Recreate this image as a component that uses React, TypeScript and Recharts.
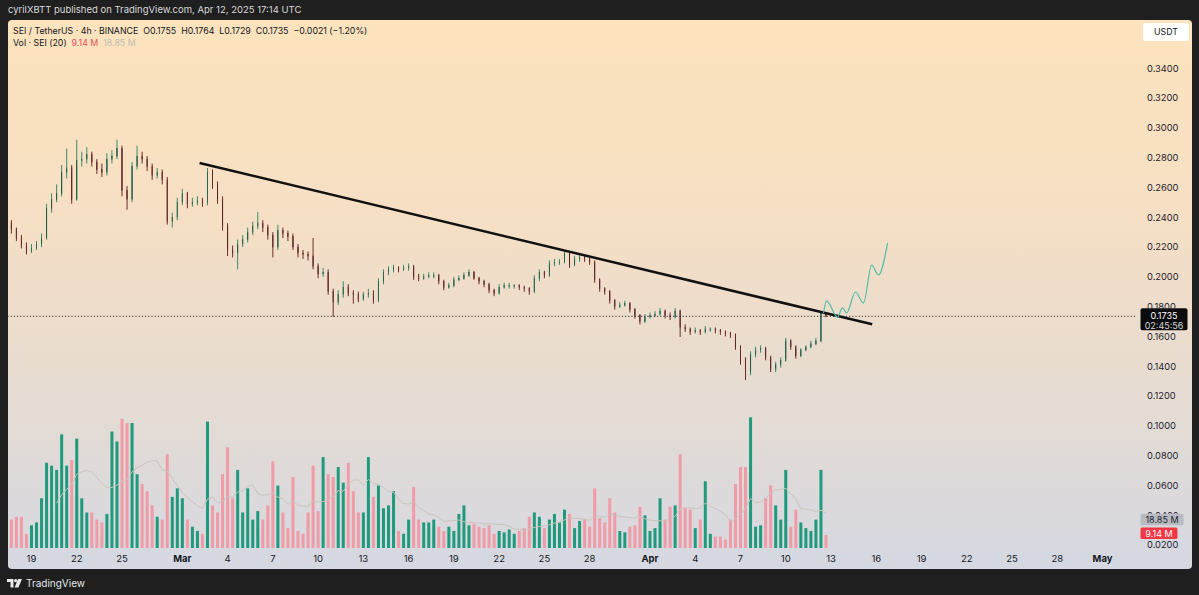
import { Bar, ComposedChart, Line, ReferenceLine, XAxis, YAxis } from 'recharts';

const FONT = 'Inter, Roboto, "Noto Sans", sans-serif';

const BAR_START = -4 / 3;
const FIRST_OPEN = 0.236;

const closes = [
  0.232, 0.226, 0.221, 0.217, 0.219, 0.222, 0.226, 0.246, 0.252, 0.256,
  0.27, 0.273, 0.252, 0.278, 0.279, 0.282, 0.277, 0.272, 0.27, 0.279,
  0.281, 0.286, 0.258, 0.252, 0.274, 0.281, 0.279, 0.274, 0.268, 0.27,
  0.265, 0.237, 0.24, 0.25, 0.256, 0.249, 0.25, 0.251, 0.25, 0.27,
  0.262, 0.252, 0.234, 0.218, 0.216, 0.222, 0.225, 0.23, 0.234, 0.236,
  0.233, 0.228, 0.22, 0.231, 0.229, 0.227, 0.22, 0.216, 0.215, 0.214,
  0.207, 0.202, 0.203, 0.19, 0.183, 0.188, 0.193, 0.189, 0.188, 0.185,
  0.188, 0.189, 0.184, 0.197, 0.203, 0.205, 0.206, 0.205, 0.206, 0.207,
  0.2, 0.199, 0.2, 0.201, 0.201, 0.197, 0.193, 0.194, 0.198, 0.199,
  0.201, 0.203, 0.199, 0.197, 0.195, 0.191, 0.189, 0.193, 0.194, 0.194,
  0.194, 0.193, 0.192, 0.19, 0.199, 0.203, 0.201, 0.209, 0.21, 0.21,
  0.216, 0.208, 0.212, 0.213, 0.212, 0.21, 0.198, 0.192, 0.19, 0.184,
  0.18, 0.181, 0.182, 0.178, 0.174, 0.17, 0.173, 0.174, 0.175, 0.177,
  0.174, 0.173, 0.177, 0.166, 0.165, 0.163, 0.164, 0.163, 0.165, 0.165,
  0.164, 0.163, 0.162, 0.161, 0.153, 0.144, 0.136, 0.148, 0.151, 0.152,
  0.146, 0.138, 0.141, 0.144, 0.157, 0.153, 0.147, 0.151, 0.153, 0.155,
  0.157, 0.1755, 0.1735,
];

const highs = [
  0.238, 0.233, 0.228, 0.223, 0.222, 0.224, 0.229, 0.249, 0.256, 0.262,
  0.275, 0.286, 0.275, 0.292, 0.284, 0.287, 0.284, 0.279, 0.276, 0.283,
  0.285, 0.292, 0.288, 0.261, 0.277, 0.288, 0.284, 0.281, 0.276, 0.273,
  0.272, 0.267, 0.243, 0.253, 0.259, 0.257, 0.253, 0.254, 0.253, 0.273,
  0.272, 0.264, 0.254, 0.236, 0.221, 0.225, 0.228, 0.233, 0.237, 0.2435,
  0.238, 0.235, 0.23, 0.235, 0.233, 0.231, 0.229, 0.222, 0.218, 0.217,
  0.226, 0.209, 0.206, 0.205, 0.192, 0.191, 0.197, 0.195, 0.191, 0.19,
  0.19, 0.192, 0.191, 0.199, 0.205, 0.207, 0.208, 0.207, 0.208, 0.209,
  0.208, 0.202, 0.202, 0.203, 0.203, 0.202, 0.198, 0.196, 0.2, 0.201,
  0.203, 0.205, 0.204, 0.2, 0.198, 0.196, 0.192, 0.195, 0.196, 0.196,
  0.195, 0.195, 0.194, 0.193, 0.201, 0.205, 0.204, 0.211, 0.212, 0.212,
  0.2175, 0.217, 0.214, 0.215, 0.214, 0.213, 0.211, 0.199, 0.193, 0.191,
  0.185, 0.183, 0.184, 0.183, 0.179, 0.175, 0.175, 0.176, 0.177, 0.179,
  0.178, 0.176, 0.179, 0.178, 0.168, 0.166, 0.166, 0.165, 0.167, 0.166,
  0.166, 0.165, 0.164, 0.163, 0.162, 0.154, 0.146, 0.15, 0.153, 0.154,
  0.153, 0.147, 0.143, 0.146, 0.159, 0.158, 0.154, 0.152, 0.154, 0.157,
  0.159, 0.177, 0.1764,
];

const lows = [
  0.229, 0.224, 0.219, 0.215, 0.216, 0.218, 0.22, 0.225, 0.243, 0.25,
  0.254, 0.266, 0.249, 0.251, 0.274, 0.276, 0.274, 0.269, 0.267, 0.268,
  0.276, 0.279, 0.254, 0.245, 0.25, 0.272, 0.276, 0.271, 0.265, 0.266,
  0.262, 0.235, 0.233, 0.238, 0.248, 0.246, 0.247, 0.248, 0.247, 0.248,
  0.259, 0.249, 0.231, 0.214, 0.213, 0.205, 0.22, 0.223, 0.228, 0.232,
  0.23, 0.225, 0.213, 0.218, 0.226, 0.224, 0.218, 0.213, 0.212, 0.211,
  0.205, 0.199, 0.2, 0.188, 0.173, 0.181, 0.186, 0.187, 0.182, 0.183,
  0.184, 0.186, 0.182, 0.183, 0.195, 0.201, 0.203, 0.203, 0.204, 0.204,
  0.198, 0.197, 0.198, 0.199, 0.199, 0.195, 0.191, 0.192, 0.193, 0.197,
  0.198, 0.2, 0.198, 0.195, 0.193, 0.189, 0.187, 0.188, 0.192, 0.192,
  0.192, 0.191, 0.19, 0.188, 0.189, 0.197, 0.199, 0.2, 0.207, 0.208,
  0.209, 0.206, 0.207, 0.21, 0.21, 0.208, 0.196, 0.19, 0.188, 0.182,
  0.178, 0.179, 0.18, 0.176, 0.172, 0.168, 0.169, 0.172, 0.173, 0.174,
  0.172, 0.171, 0.172, 0.1596, 0.163, 0.161, 0.162, 0.161, 0.162, 0.163,
  0.162, 0.161, 0.16, 0.159, 0.151, 0.141, 0.1307, 0.134, 0.146, 0.149,
  0.144, 0.136, 0.136, 0.139, 0.143, 0.151, 0.145, 0.146, 0.15, 0.152,
  0.154, 0.156, 0.1729,
];

// volume in millions SEI
const volumes = [
  20, 22, 22, 10, 16, 18, 35, 60, 58, 55,
  80, 58, 62, 77, 35, 25, 25, 20, 18, 24,
  82, 75, 91, 88, 88, 52, 45, 40, 30, 22,
  20, 66, 36, 42, 35, 20, 15, 12, 10, 89,
  30, 25, 52, 71, 35, 55, 25, 42, 20, 26,
  20, 30, 61, 44, 25, 14, 50, 12, 10, 25,
  58, 26, 64, 52, 50, 57, 46, 60, 40, 25,
  25, 64, 36, 44, 28, 30, 40, 12, 10, 20,
  43, 20, 18, 18, 20, 15, 12, 15, 12, 24,
  30, 16, 17, 15, 14, 16, 10, 12, 11, 13,
  10, 12, 14, 22, 25, 22, 14, 20, 24, 18,
  27, 24, 14, 19, 20, 15, 42, 21, 18, 35,
  25, 12, 11, 15, 16, 29, 23, 12, 14, 35,
  20, 29, 30, 66, 28, 27, 14, 20, 47, 10,
  8, 8, 6, 20, 45, 57, 57, 92, 15, 16,
  35, 44, 30, 20, 55, 15, 27, 18, 14, 12,
  20, 55, 9.14,
];

// hand-drawn breakout path after the last bar
const projDays = [52.5, 52.7, 53.43, 53.76, 54.03, 54.62, 55.15, 55.69, 56.15, 56.75];
const projPrices = [0.1757, 0.1838, 0.173, 0.1791, 0.1757, 0.1898, 0.1824, 0.2079, 0.2012, 0.2227];

// descending trendline, Mar 2 high to Apr 14
const trendDays = [11.14, 55.73];
const trendPrices = [0.2764, 0.1681];

const tickDays = [0, 3, 6, 10, 13, 16, 19, 22, 25, 28, 31, 34, 37, 41, 44, 47, 50, 53, 56, 59, 62, 65, 68, 71];
const tickLabels = ['19', '22', '25', 'Mar', '4', '7', '10', '13', '16', '19', '22', '25', '28', 'Apr', '4', '7', '10', '13', '16', '19', '22', '25', '28', 'May'];
const priceTicks = [0.02, 0.04, 0.06, 0.08, 0.1, 0.12, 0.14, 0.16, 0.18, 0.2, 0.22, 0.24, 0.26, 0.28, 0.3, 0.32, 0.34];

const LAST_CLOSE = 0.1735;
const LAST_VOL = 9.14;
const VOL_MA_LAST = 18.85;
const MA_LEN = 10;

const CHART_W = 1184;
const CHART_H = 549;
const AXIS_W = 57;
const AXIS_H = 21;

const X_DOMAIN: [number, number] = [-1.558, 73.15];
const P_DOMAIN: [number, number] = [0.01799, 0.37235];
const V_DOMAIN: [number, number] = [0, 371.8];

const volMa = volumes.map((_, i) =>
  i < MA_LEN - 1 ? null : volumes.slice(i - MA_LEN + 1, i + 1).reduce((a, b) => a + b, 0) / MA_LEN,
);

const rows = closes.map((c, i) => {
  const o = i === 0 ? FIRST_OPEN : closes[i - 1];
  return { t: BAR_START + i / 3, o, h: highs[i], l: lows[i], c, range: [lows[i], highs[i]], v: volumes[i], ma: volMa[i] };
});

const projection = projDays.map((t, i) => ({ t, p: projPrices[i] }));

const UP = '#2a7c5e';
const UP_EDGE = '#1a4a3a';
const DOWN = '#8e3737';
const DOWN_EDGE = '#4c2020';

function Candle(props: any) {
  const { x, y, width, height, payload } = props;
  const { o, h, l, c } = payload;
  const top = Math.min(y, y + height);
  const span = Math.abs(height);
  const k = h === l ? 0 : span / (h - l);
  const py = (p: number) => top + (h - p) * k;
  const up = c >= o;
  const cx = x + width / 2;
  return (
    <g>
      <line x1={cx} x2={cx} y1={top} y2={top + span} stroke={up ? '#3d8c6d' : '#6e2c2c'} strokeWidth={1} />
      <rect
        x={x}
        y={py(Math.max(o, c))}
        width={width}
        height={Math.max(1, Math.abs(o - c) * k)}
        fill={up ? UP : DOWN}
        stroke={up ? UP_EDGE : DOWN_EDGE}
        strokeWidth={0.5}
      />
    </g>
  );
}

function VolBar(props: any) {
  const { x, y, width, height, payload } = props;
  const up = payload.c >= payload.o;
  return <rect x={x} y={y} width={width} height={Math.max(0, height)} fill={up ? '#1f9a7c' : '#f09ba6'} />;
}

function DateTick(props: any) {
  const { x, y, payload } = props;
  const idx = tickDays.indexOf(payload.value);
  const label = tickLabels[idx] ?? '';
  const month = /[A-Za-z]/.test(label);
  return (
    <text x={x} y={y + 14} textAnchor="middle" fontSize={9.5} fontWeight={month ? 700 : 400} fill="#131722" fontFamily={FONT}>
      {label}
    </text>
  );
}

function PriceTag(props: any) {
  const { x, y, width } = props.viewBox;
  const left = x + width + 5.5;
  return (
    <g>
      <rect x={left} y={y - 8} width={47} height={22} rx={2} fill="#0b0b0b" />
      <text x={left + 23.5} y={y + 2.5} textAnchor="middle" fontSize={9} fill="#ffffff" fontFamily={FONT}>
        {LAST_CLOSE.toFixed(4)}
      </text>
      <text x={left + 23.5} y={y + 13} textAnchor="middle" fontSize={9} fill="#d8d8d8" fontFamily={FONT}>
        02:45:56
      </text>
    </g>
  );
}

function VolTag(props: any) {
  const { x, y, width } = props.viewBox;
  const left = x + width + 5.5;
  const { text, bg, fg, w } = props;
  return (
    <g>
      <rect x={left} y={y - 7.5} width={w} height={11.5} rx={1.5} fill={bg} />
      <text x={left + w / 2} y={y + 1.5} textAnchor="middle" fontSize={9} fill={fg} fontFamily={FONT}>
        {text}
      </text>
    </g>
  );
}

function TvLogo() {
  return (
    <svg width={15} height={9} viewBox="0 0 15 9">
      <path d="M0 0h6.5v8.5H3.5V3H0z" fill="#e8e8e8" />
      <circle cx={8.6} cy={1.6} r={1.6} fill="#e8e8e8" />
      <path d="M11 0h4l-3.6 8.5H7.6z" fill="#e8e8e8" />
    </svg>
  );
}

export default function App() {
  return (
    <div
      style={{
        position: 'absolute',
        left: 0,
        top: 0,
        width: 1199,
        height: 595,
        background: '#1f1f20',
        fontFamily: FONT,
        overflow: 'hidden',
      }}
    >
      <div style={{ position: 'absolute', left: 8, top: 4, fontSize: 9.5, color: '#d9d9d9' }}>
        cyrilXBTT published on TradingView.com, Apr 12, 2025 17:14 UTC
      </div>

      <div
        style={{
          position: 'absolute',
          left: 7.5,
          top: 20,
          width: CHART_W,
          height: CHART_H,
          borderRadius: 4,
          overflow: 'hidden',
          background: 'linear-gradient(180deg, #fde3bd 0%, #f6dfc4 35%, #e9dccf 62%, #d5d8e2 100%)',
        }}
      >
        <ComposedChart width={CHART_W} height={CHART_H} data={rows} margin={{ top: 0, right: 0, bottom: 0, left: 0 }}>
          <XAxis
            xAxisId="a"
            dataKey="t"
            type="number"
            domain={X_DOMAIN}
            allowDataOverflow
            ticks={tickDays}
            interval={0}
            tick={<DateTick />}
            tickSize={0}
            tickMargin={0}
            axisLine={false}
            tickLine={false}
            height={AXIS_H}
          />
          <XAxis xAxisId="vx" dataKey="t" type="number" domain={X_DOMAIN} allowDataOverflow hide />
          <YAxis
            yAxisId="p"
            orientation="right"
            domain={P_DOMAIN}
            allowDataOverflow
            ticks={priceTicks}
            interval={0}
            tickFormatter={(v: number) => v.toFixed(4)}
            tick={{ fill: '#1e222d', fontSize: 9.3, fontFamily: FONT }}
            tickSize={0}
            tickMargin={12}
            axisLine={false}
            tickLine={false}
            width={AXIS_W}
          />
          <YAxis yAxisId="v" domain={V_DOMAIN} allowDataOverflow hide />

          <Bar xAxisId="vx" yAxisId="v" dataKey="v" barSize={3} shape={<VolBar />} isAnimationActive={false} />
          <Line
            xAxisId="vx"
            yAxisId="v"
            dataKey="ma"
            stroke="#cbc4bd"
            strokeWidth={1}
            dot={false}
            connectNulls={false}
            isAnimationActive={false}
          />

          <ReferenceLine
            xAxisId="a"
            yAxisId="p"
            y={LAST_CLOSE}
            stroke="#2e2e2e"
            strokeDasharray="1.2 2"
            strokeWidth={1}
            label={<PriceTag />}
          />

          <Bar xAxisId="a" yAxisId="p" dataKey="range" barSize={3} shape={<Candle />} isAnimationActive={false} />

          <ReferenceLine
            xAxisId="a"
            yAxisId="p"
            segment={[
              { x: trendDays[0], y: trendPrices[0] },
              { x: trendDays[1], y: trendPrices[1] },
            ]}
            stroke="#111111"
            strokeWidth={2.5}
          />
          <Line
            xAxisId="a"
            yAxisId="p"
            data={projection}
            dataKey="p"
            type="monotone"
            stroke="#4fbfa9"
            strokeWidth={1.2}
            dot={false}
            isAnimationActive={false}
          />
        </ComposedChart>

        {/* volume badges sit above the price scale, as in TradingView */}
        <div style={{ position: 'absolute', left: 0, top: 0, pointerEvents: 'none' }}>
          <ComposedChart
            width={CHART_W}
            height={CHART_H}
            data={rows}
            margin={{ top: 0, right: AXIS_W, bottom: AXIS_H, left: 0 }}
          >
            <XAxis xAxisId="vx" dataKey="t" type="number" domain={X_DOMAIN} allowDataOverflow hide />
            <YAxis yAxisId="v" domain={V_DOMAIN} allowDataOverflow hide />
            <ReferenceLine
              xAxisId="vx"
              yAxisId="v"
              y={VOL_MA_LAST}
              stroke="none"
              label={<VolTag text="18.85 M" bg="#b9bbc2" fg="#1e222d" w={43} />}
            />
            <ReferenceLine
              xAxisId="vx"
              yAxisId="v"
              y={LAST_VOL}
              stroke="none"
              label={<VolTag text="9.14 M" bg="#f23645" fg="#ffffff" w={37} />}
            />
          </ComposedChart>
        </div>

        <div style={{ position: 'absolute', left: 5.5, top: 5, fontSize: 8.8, color: '#131722', lineHeight: '12px', whiteSpace: 'pre' }}>
          <div>SEI / TetherUS · 4h · BINANCE{'  '}O0.1755{'  '}H0.1764{'  '}L0.1729{'  '}C0.1735{'  '}−0.0021 (−1.20%)</div>
          <div>
            Vol · SEI (20){'  '}
            <span style={{ color: '#e8505e' }}>9.14 M</span>
            {'  '}
            <span style={{ color: '#c3bcb2' }}>18.85 M</span>
          </div>
        </div>

        <div
          style={{
            position: 'absolute',
            left: 1135.5,
            top: 3,
            width: 46,
            height: 18,
            background: '#ffffff',
            borderRadius: 3,
            fontSize: 8.8,
            color: '#131722',
            lineHeight: '18px',
            textAlign: 'center',
          }}
        >
          USDT
        </div>
      </div>

      <div style={{ position: 'absolute', left: 7, top: 577, display: 'flex', alignItems: 'center', gap: 4, color: '#e6e6e6', fontSize: 10 }}>
        <TvLogo />
        <span>TradingView</span>
      </div>
    </div>
  );
}
